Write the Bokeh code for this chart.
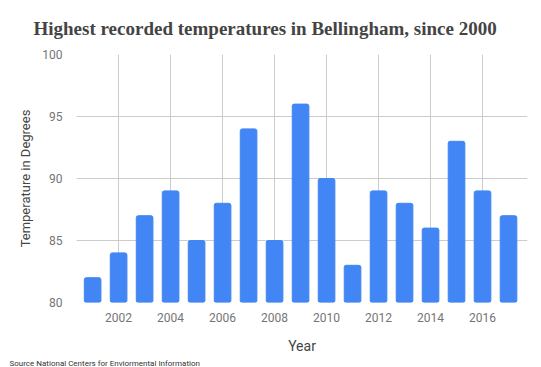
from bokeh.plotting import figure
from bokeh.models import Range1d, Title, FixedTicker
from bokeh.embed import file_html
from bokeh.resources import INLINE

years = [2001, 2002, 2003, 2004, 2005, 2006, 2007, 2008, 2009,
         2010, 2011, 2012, 2013, 2014, 2015, 2016, 2017]
temps = [82, 84, 87, 89, 85, 88, 94, 85, 96, 90, 83, 89, 88, 86, 93, 89, 87]
x_ticks = [2002, 2004, 2006, 2008, 2010, 2012, 2014, 2016]
y_ticks = [80, 85, 90, 95, 100]

title_text = "Highest recorded temperatures in Bellingham, since 2000"
source_text = "Source National Centers for Enviormental Information"

p = figure(width=541, height=367, frame_width=451, frame_height=248,
           output_backend="svg", toolbar_location=None,
           x_range=Range1d(2000.38, 2017.73), y_range=Range1d(80, 100),
           min_border_left=76, min_border_right=14, min_border_top=54,
           min_border_bottom=65)
p.outline_line_color = None
p.background_fill_color = "white"
p.border_fill_color = "white"

p.vbar(x=years, top=temps, bottom=80, width=0.64, color="#4285f4",
       border_radius=2)

for ax in (p.xaxis[0], p.yaxis[0]):
    ax.axis_line_color = None
    ax.major_tick_line_color = None
    ax.minor_tick_line_color = None
    ax.major_label_text_font = "Roboto"
    ax.major_label_text_font_size = "12px"
    ax.major_label_text_color = "#757575"
    ax.axis_label_text_font = "Roboto"
    ax.axis_label_text_font_style = "normal"
    ax.axis_label_text_color = "#444444"

p.xaxis.ticker = FixedTicker(ticks=x_ticks)
p.yaxis.ticker = FixedTicker(ticks=y_ticks)
p.xaxis.axis_label = "Year"
p.xaxis.axis_label_text_font_size = "14px"
p.xaxis.major_label_standoff = 4
p.xaxis.axis_label_standoff = 13
p.yaxis.axis_label = "Temperature in Degrees"
p.yaxis.axis_label_text_font_size = "13px"
p.yaxis.major_label_standoff = 8
p.yaxis.axis_label_standoff = 6

p.xgrid.grid_line_color = "#cccccc"
p.ygrid.grid_line_color = "#cccccc"

p.title.text = title_text
p.title.text_font = "Liberation Serif"
p.title.text_font_style = "bold"
p.title.text_font_size = "19px"
p.title.text_color = "#444444"
p.title.align = "left"
p.title.offset = -43
p.title.standoff = 31

p.add_layout(Title(text=source_text, text_font="Roboto",
                   text_font_size="8px", text_font_style="normal",
                   text_color="#333333", align="left", offset=-67,
                   standoff=0), "below")

open("out.html", "w").write(file_html(p, INLINE))
